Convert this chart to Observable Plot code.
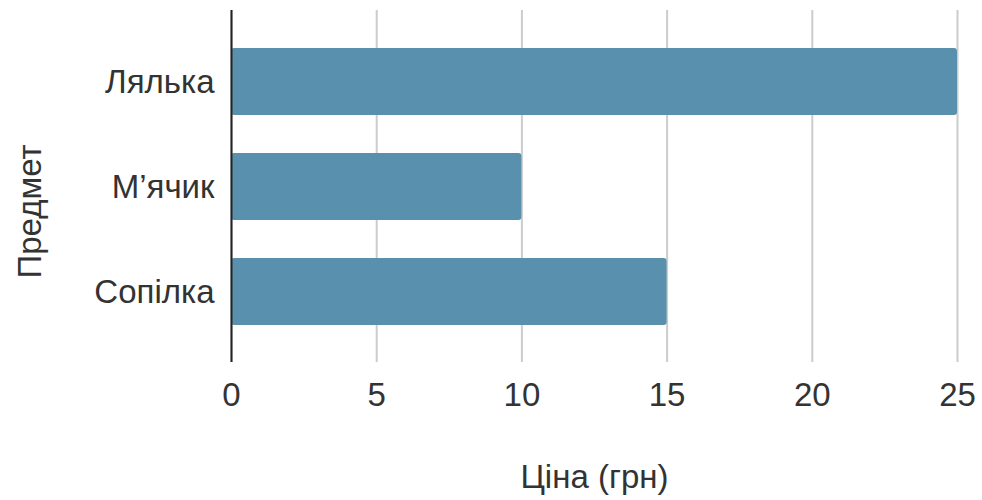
<!DOCTYPE html>
<html>
<head>
<meta charset="utf-8">
<script src="https://cdn.jsdelivr.net/npm/d3@7"></script>
<script src="https://cdn.jsdelivr.net/npm/@observablehq/plot@0.6"></script>
<style>
  html, body { margin: 0; padding: 0; background: #fff; }
</style>
</head>
<body>
<div id="chart"></div>
<script>
const items = ["Лялька", "М’ячик", "Сопілка"];
const prices = [25, 10, 15];
const xTicks = [0, 5, 10, 15, 20, 25];
const xTitle = ["Ціна (грн)"];
const yTitle = ["Предмет"];

const data = items.map((item, i) => ({item, price: prices[i]}));

const chart = Plot.plot({
  width: 982,
  height: 500,
  marginTop: 10,
  marginBottom: 138,
  marginLeft: 231,
  marginRight: 25,
  style: {fontFamily: "'Liberation Sans', Arial, sans-serif", fontSize: "33px", color: "#333", background: "#fff"},
  x: {domain: [0, 25]},
  y: {domain: items, paddingInner: 0.365, paddingOuter: 0.35},
  marks: [
    Plot.gridX(xTicks, {stroke: "#cccccc", strokeOpacity: 1, strokeWidth: 2}),
    Plot.barX(data, {x: "price", y: "item", fill: "#5890ad", rx: 3}),
    Plot.ruleX([0], {stroke: "#222", strokeWidth: 2}),
    Plot.axisX(xTicks, {tickSize: 0, tickPadding: 20, label: null, fontSize: 33}),
    Plot.axisY({tickSize: 0, tickPadding: 17, label: null, fontSize: 33}),
    Plot.text(xTitle, {text: d => d, frameAnchor: "bottom", dy: 125, fontSize: 33, fill: "#333"}),
    Plot.text(yTitle, {text: d => d, frameAnchor: "left", textAnchor: "middle", rotate: -90, dx: -201, dy: 25, fontSize: 33, fill: "#333"})
  ]
});
document.getElementById("chart").appendChild(chart);
</script>
</body>
</html>
